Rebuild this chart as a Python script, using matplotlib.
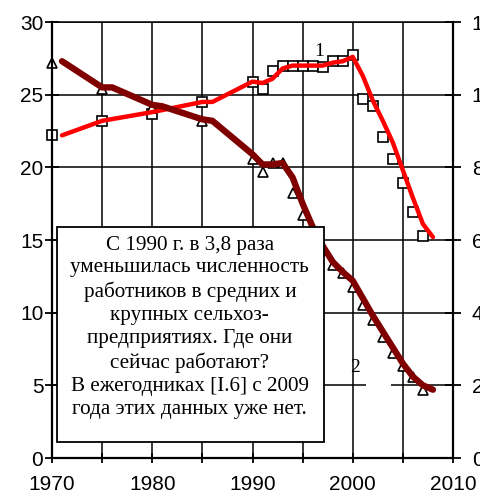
import numpy as np
import matplotlib.pyplot as plt
from matplotlib.patches import Rectangle

# ряд 1 (квадраты) и его сглаженная линия
years1 = [1970, 1975, 1980, 1985, 1990, 1991, 1992, 1993, 1994, 1995, 1996,
          1997, 1998, 1999, 2000, 2001, 2002, 2003, 2004, 2005, 2006, 2007]
vals1 = [22.2, 23.2, 23.7, 24.5, 25.9, 25.4, 26.6, 27.0, 27.0, 27.0, 27.0,
         26.9, 27.3, 27.3, 27.7, 24.7, 24.2, 22.1, 20.6, 18.9, 16.9, 15.3]
trend1_years = [1971, 1975, 1980, 1985, 1986, 1990, 1991, 1992, 1993, 1994, 1995,
                1996, 1997, 1998, 1999, 2000, 2001, 2002, 2003, 2004, 2005, 2006,
                2007, 2008]
trend1_vals = [22.2, 23.2, 23.8, 24.5, 24.5, 25.9, 25.8, 26.1, 26.8, 27.0, 27.0,
               27.0, 27.0, 27.2, 27.3, 27.6, 26.3, 24.6, 23.2, 21.7, 19.8, 17.9,
               16.1, 15.2]

# ряд 2 (треугольники) и его сглаженная линия
years2 = [1970, 1975, 1980, 1985, 1990, 1991, 1992, 1993, 1994, 1995, 1996,
          1997, 1998, 1999, 2000, 2001, 2002, 2003, 2004, 2005, 2006, 2007]
vals2 = [27.2, 25.4, 24.1, 23.2, 20.6, 19.7, 20.3, 20.3, 18.2, 16.7, 15.3,
         14.3, 13.3, 12.7, 11.8, 10.5, 9.5, 8.3, 7.2, 6.3, 5.6, 4.7]
trend2_years = [1971, 1975, 1976, 1980, 1981, 1985, 1986, 1990, 1991, 1992, 1993,
                1994, 1995, 1996, 1997, 1998, 1999, 2000, 2001, 2002, 2003, 2004,
                2005, 2006, 2007, 2008]
trend2_vals = [27.3, 25.5, 25.5, 24.3, 24.2, 23.3, 23.2, 20.9, 20.2, 20.2, 20.3,
               19.3, 17.5, 15.9, 14.6, 13.5, 12.8, 12.2, 11.0, 9.8, 8.7, 7.6,
               6.5, 5.6, 5.0, 4.7]

note = ("С 1990 г. в 3,8 раза\nуменьшилась численность\nработников в средних и\n"
        "крупных сельхоз-\nпредприятиях. Где они\nсейчас работают?\n"
        "В ежегодниках [I.6] с 2009\nгода этих данных уже нет.")

sans = 'Liberation Sans'
serif = 'Liberation Serif'

fig = plt.figure(figsize=(4.81, 4.93), dpi=100)
ax = fig.add_axes([52 / 481, 1 - 458 / 493, 401 / 481, 436 / 493])

ax.set_xlim(1970, 2010)
ax.set_ylim(0, 30)
ax.set_xticks(range(1970, 2011, 10))
ax.set_xticks(range(1970, 2011, 5), minor=True)
ax.set_yticks(range(0, 31, 5))
ax.set_axisbelow(True)
ax.grid(True, which='both', color='black', linewidth=1.1)
for s in ['left', 'bottom', 'right']:
    ax.spines[s].set_linewidth(1.6)
ax.spines['top'].set_linewidth(1.1)

ax.tick_params(axis='y', direction='inout', length=9.5, width=1.3, pad=1.5,
               labelsize=15)
ax.tick_params(axis='x', which='both', direction='inout', length=7, width=1.3,
               pad=8.5, labelsize=15)
for lab in ax.get_xticklabels() + ax.get_yticklabels():
    lab.set_fontfamily(sans)

# маркеры
ax.plot(years1, vals1, linestyle='none', marker='s', markersize=6.5,
        markerfacecolor='white', markeredgecolor='black', markeredgewidth=1.2,
        zorder=2, clip_on=False)
ax.plot(years2, vals2, linestyle='none', marker='^', markersize=6.5,
        markerfacecolor='white', markeredgecolor='black', markeredgewidth=1.2,
        zorder=2, clip_on=False)
# сглаженные линии
ax.plot(trend1_years, trend1_vals, color='#ff0000', linewidth=3.2,
        solid_capstyle='round', solid_joinstyle='round', zorder=3)
ax.plot(trend2_years, trend2_vals, color='#800000', linewidth=4.6,
        solid_capstyle='round', solid_joinstyle='round', zorder=4)

# подписи рядов
ax.text(1996.6, 28.0, '1', fontsize=14, family=serif, ha='center', va='center',
        zorder=5)
ax.add_patch(Rectangle((2001.3, 4.6), 2.5, 0.8, facecolor='white',
                       edgecolor='none', zorder=1))
ax.text(2000.2, 6.2, '2', fontsize=14, family=serif, ha='center', va='center',
        zorder=5)

# рамка с текстом
ax.add_patch(Rectangle((1970.5, 1.1), 26.6, 14.8, facecolor='white',
                       edgecolor='black', linewidth=1.3, zorder=6))
ax.text(1983.75, 9.0, note, fontsize=15.2, family=serif, ha='center',
        va='center', multialignment='center', linespacing=1.28, zorder=7)

# правая ось
ax2 = ax.twinx()
ax2.set_ylim(0, 12)
ax2.set_yticks(range(0, 13, 2))
ax2.tick_params(axis='y', direction='inout', length=12, width=1.3, pad=7.5,
                labelsize=15)
for lab in ax2.get_yticklabels():
    lab.set_fontfamily(sans)
for s in ax2.spines.values():
    s.set_visible(False)

fig.savefig('out.png', dpi=100)
